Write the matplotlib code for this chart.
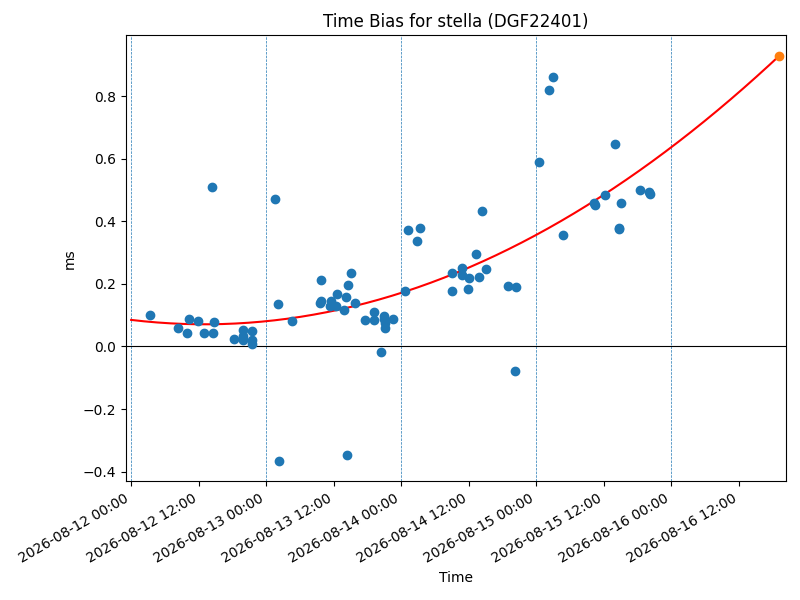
import matplotlib
matplotlib.use("Agg")
import matplotlib.pyplot as plt
import matplotlib.dates as mdates
import numpy as np
import pandas as pd

title = "Time Bias for stella (DGF22401)"

times = [
    "2026-08-12 03:26", "2026-08-12 08:24", "2026-08-12 10:00", "2026-08-12 10:12",
    "2026-08-12 11:51", "2026-08-12 12:59", "2026-08-12 14:27", "2026-08-12 14:38",
    "2026-08-12 14:48", "2026-08-12 18:12", "2026-08-12 19:48", "2026-08-12 19:48",
    "2026-08-12 19:50", "2026-08-12 21:27", "2026-08-12 21:27", "2026-08-12 21:29",
    "2026-08-13 01:39", "2026-08-13 02:11", "2026-08-13 02:18", "2026-08-13 04:31",
    "2026-08-13 09:43", "2026-08-13 09:36", "2026-08-13 09:50", "2026-08-13 11:30",
    "2026-08-13 11:22", "2026-08-13 12:23", "2026-08-13 12:40", "2026-08-13 13:55",
    "2026-08-13 14:07", "2026-08-13 14:17", "2026-08-13 14:38", "2026-08-13 15:00",
    "2026-08-13 15:49", "2026-08-13 17:35", "2026-08-13 19:15", "2026-08-13 19:15",
    "2026-08-13 20:27", "2026-08-13 20:56", "2026-08-13 21:00", "2026-08-13 21:03",
    "2026-08-13 21:03", "2026-08-13 22:38",
    "2026-08-14 00:46", "2026-08-14 01:08", "2026-08-14 02:44", "2026-08-14 03:26",
    "2026-08-14 09:07", "2026-08-14 09:07", "2026-08-14 10:46", "2026-08-14 10:46",
    "2026-08-14 11:58", "2026-08-14 12:06", "2026-08-14 13:23", "2026-08-14 13:45",
    "2026-08-14 14:27", "2026-08-14 15:10", "2026-08-14 18:55", "2026-08-14 20:10",
    "2026-08-14 20:30",
    "2026-08-15 00:32", "2026-08-15 02:18", "2026-08-15 02:54", "2026-08-15 04:51",
    "2026-08-15 10:22", "2026-08-15 10:20", "2026-08-15 12:09", "2026-08-15 14:02",
    "2026-08-15 14:38", "2026-08-15 14:45", "2026-08-15 15:00", "2026-08-15 18:22",
    "2026-08-15 19:58", "2026-08-15 20:12",
]
bias_ms = [
    0.102, 0.058, 0.042, 0.089,
    0.081, 0.042, 0.509, 0.042,
    0.077, 0.025, 0.052, 0.032,
    0.020, 0.049, 0.022, 0.009,
    0.473, 0.135, -0.366, 0.082,
    0.212, 0.140, 0.146, 0.145,
    0.128, 0.129, 0.169, 0.118,
    0.157, -0.347, 0.198, 0.236,
    0.140, 0.086, 0.111, 0.086,
    -0.017, 0.097, 0.088, 0.076,
    0.060, 0.088,
    0.179, 0.374, 0.337, 0.380,
    0.236, 0.179, 0.252, 0.230,
    0.183, 0.220, 0.297, 0.223,
    0.432, 0.249, 0.195, -0.078,
    0.191,
    0.589, 0.819, 0.861, 0.356,
    0.454, 0.458, 0.486, 0.646,
    0.377, 0.380, 0.460, 0.500,
    0.493, 0.489,
]

prediction_time = "2026-08-16 19:12"
prediction_ms = 0.930

# quadratic fit coefficients (t in days from fit_origin)
fit_origin = "2026-08-12 00:00"
fit_coeffs = [0.0474, -0.0516, 0.085]

day_lines = ["2026-08-12", "2026-08-13", "2026-08-14", "2026-08-15", "2026-08-16"]
xlim = ["2026-08-11 23:01", "2026-08-16 20:20"]

t = pd.to_datetime(times)
origin = pd.Timestamp(fit_origin)
pred_t = pd.Timestamp(prediction_time)

fig, ax = plt.subplots(figsize=(8, 6), dpi=100)

for d in day_lines:
    ax.axvline(pd.Timestamp(d), linestyle="--", linewidth=0.5, color="C0")
ax.axhline(0, color="black", linewidth=0.8)

ax.scatter(t, bias_ms, color="C0", zorder=3)

curve_t = pd.date_range(origin, pred_t, periods=200)
days = (curve_t - origin) / pd.Timedelta(days=1)
ax.plot(curve_t, np.polyval(fit_coeffs, np.asarray(days)), color="red", zorder=2)

ax.scatter([pred_t], [prediction_ms], color="C1", zorder=4)

ax.set_xlim(pd.Timestamp(xlim[0]), pd.Timestamp(xlim[1]))
ax.xaxis.set_major_locator(mdates.HourLocator(byhour=[0, 12]))
ax.xaxis.set_major_formatter(mdates.DateFormatter("%Y-%m-%d %H:%M"))
for lbl in ax.get_xticklabels():
    lbl.set_rotation(30)
    lbl.set_ha("right")

ax.set_title(title)
ax.set_xlabel("Time")
ax.set_ylabel("ms")

fig.subplots_adjust(left=0.157, right=0.982, bottom=0.198, top=0.941)
fig.savefig("out.png", dpi=100)
